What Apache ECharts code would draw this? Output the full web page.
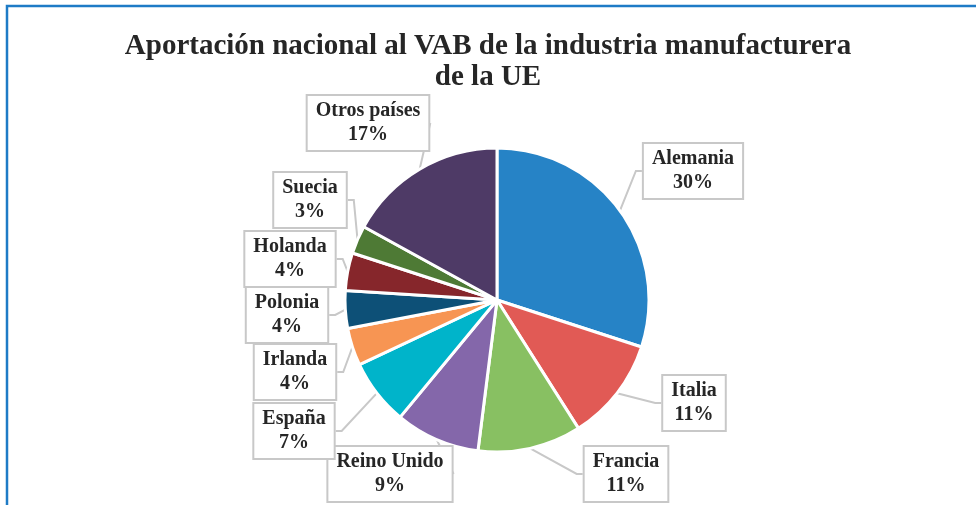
<!DOCTYPE html>
<html>
<head>
<meta charset="utf-8">
<script src="https://cdn.jsdelivr.net/npm/echarts@6/dist/echarts.min.js"></script>
<style>
  html, body { margin: 0; padding: 0; background: #fff; }
  #chart { width: 976px; height: 505px; }
</style>
</head>
<body>
<div id="chart"></div>
<script>
// datos (porcentaje del VAB manufacturero de la UE)
var paises = ["Alemania", "Italia", "Francia", "Reino Unido", "España", "Irlanda", "Polonia", "Holanda", "Suecia", "Otros países"];
var valores = [30, 11, 11, 9, 7, 4, 4, 4, 3, 17];
var colores = ["#2683C6", "#E15A55", "#88C062", "#8467AA", "#00B4CA", "#F79553", "#0D5077", "#86262B", "#4E7A35", "#4E3A66"];

// centro de cada etiqueta (px)
var posEtiquetas = [
  [693, 171], [694, 403], [626, 474], [390, 474], [294, 431],
  [295, 372], [287, 315], [290, 259], [310, 200], [368, 123]
];

var serif = "'Liberation Serif', 'DejaVu Serif', serif";
var chart = echarts.init(document.getElementById("chart"));

var option = {
  backgroundColor: "#fff",
  animation: false,
  title: {
    text: "Aportación nacional al VAB de la industria manufacturera\nde la UE",
    left: "center",
    top: 26,
    textStyle: {
      fontFamily: serif,
      fontWeight: "bold",
      fontSize: 29,
      lineHeight: 31,
      color: "#262626"
    }
  },
  graphic: [
    {
      type: "rect",
      shape: { x: 7, y: 6, width: 1100, height: 700 },
      style: { fill: null, stroke: "#1E7BC6", lineWidth: 2.5 },
      silent: true
    }
  ],
  series: [
    {
      type: "pie",
      center: [497, 300],
      radius: 152,
      startAngle: 90,
      clockwise: true,
      itemStyle: { borderColor: "#fff", borderWidth: 3 },
      label: {
        show: true,
        position: "outside",
        formatter: "{b}\n{c}%",
        fontFamily: serif,
        fontWeight: "bold",
        fontSize: 20,
        lineHeight: 24,
        color: "#262626",
        backgroundColor: "#fff",
        borderColor: "#C8C8C8",
        borderWidth: 2,
        padding: [3, 8],
        align: "center"
      },
      labelLine: {
        show: true,
        length: 10,
        length2: 6,
        lineStyle: { color: "#C8C8C8", width: 2 }
      },
      labelLayout: function (p) {
        var c = posEtiquetas[p.dataIndex];
        return { x: c[0], y: c[1], align: "center", verticalAlign: "middle" };
      },
      data: paises.map(function (n, i) {
        return { name: n, value: valores[i], itemStyle: { color: colores[i] } };
      })
    }
  ]
};

chart.setOption(option);
</script>
</body>
</html>
